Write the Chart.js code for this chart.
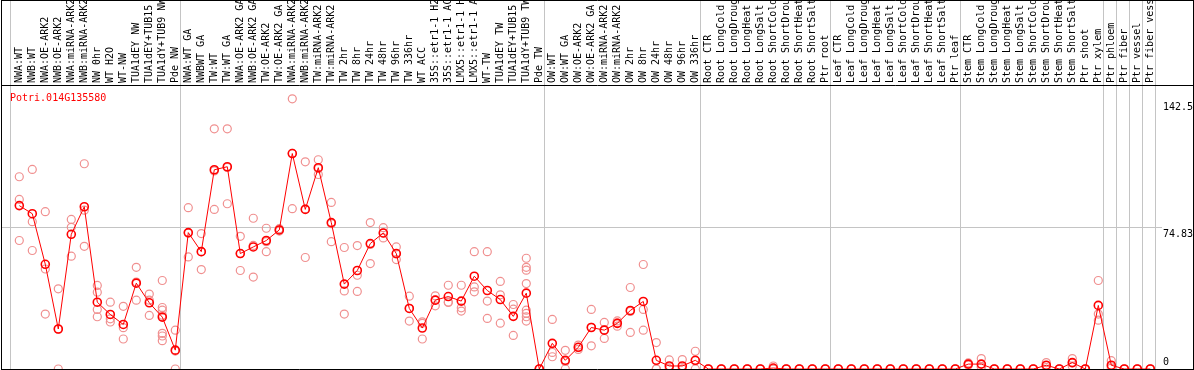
<!DOCTYPE html>
<html>
<head>
<meta charset="utf-8">
<script src="https://cdn.jsdelivr.net/npm/chart.js@4.4.0/dist/chart.umd.min.js"></script>
<style>
  html, body { margin: 0; padding: 0; background: #fff; }
</style>
</head>
<body>
<canvas id="c" width="1194" height="370"></canvas>
<script>
const gene = "Potri.014G135580";

const categories = [
  "NWA:WT", "NWB:WT", "NWA:OE-ARK2", "NWB:OE-ARK2", "NWA:miRNA-ARK2", "NWB:miRNA-ARK2",
  "NW 0hr", "WT H2O", "WT-NW", "TUA1dEY NW", "TUA1dEY+TUB15 NW", "TUA1dY+TUB9 NW", "Pde NW",
  "NWA:WT GA", "NWBWT GA", "TW:WT", "TW:WT GA", "NWA:OE-ARK2 GA", "NWB:OE-ARK2 GA",
  "TW:OE-ARK2", "TW:OE-ARK2 GA", "NWA:miRNA-ARK2", "NWB:miRNA-ARK2", "TW:miRNA-ARK2",
  "TW:miRNA-ARK2", "TW 2hr", "TW 8hr", "TW 24hr", "TW 48hr", "TW 96hr", "TW 336hr",
  "WT ACC", "35S::etr1-1 H2O", "35S::etr1-1 ACC", "LMX5::etr1-1 H2O", "LMX5::etr1-1 ACC",
  "WT-TW", "TUA1dEY TW", "TUA1dEY+TUB15 TW", "TUA1dY+TUB9 TW", "Pde TW",
  "OW:WT", "OW:WT GA", "OW:OE-ARK2", "OW:OE-ARK2 GA", "OW:miRNA-ARK2", "OW:miRNA-ARK2",
  "OW 2hr", "OW 8hr", "OW 24hr", "OW 48hr", "OW 96hr", "OW 336hr",
  "Root CTR", "Root LongCold", "Root LongDrought", "Root LongHeat", "Root LongSalt",
  "Root ShortCold", "Root ShortDrought", "Root ShortHeat", "Root ShortSalt", "Ptr root",
  "Leaf CTR", "Leaf LongCold", "Leaf LongDrought", "Leaf LongHeat", "Leaf LongSalt",
  "Leaf ShortCold", "Leaf ShortDrought", "Leaf ShortHeat", "Leaf ShortSalt", "Ptr leaf",
  "Stem CTR", "Stem LongCold", "Stem LongDrought", "Stem LongHeat", "Stem LongSalt",
  "Stem ShortCold", "Stem ShortDrought", "Stem ShortHeat", "Stem ShortSalt", "Ptr shoot",
  "Ptr xylem", "Ptr phloem", "Ptr fiber", "Ptr vessel", "Ptr fiber vessel"
];

// mean expression per sample (the red line)
const means = [
  86.6, 82.3, 55.5, 21.2, 71.4, 86.0, 35.4, 28.9, 23.6, 45.5, 35.1, 27.5, 10.0,
  72.3, 62.2, 105.6, 107.2, 61.2, 64.7, 68.1, 73.7, 114.2, 84.6, 106.7, 77.6,
  45.0, 52.2, 66.5, 72.1, 61.2, 32.1, 21.7, 36.5, 38.4, 36.0, 49.2, 41.6, 36.8,
  27.9, 40.2, 0, 13.6, 4.6, 11.5, 22.0, 20.6, 24.2, 31.0, 35.8, 4.6, 1.6, 1.6, 4.6,
  0, 0, 0, 0, 0, 0.5, 0, 0, 0, 0,
  0, 0, 0, 0, 0, 0, 0, 0, 0, 0,
  2.6, 2.6, 0, 0, 0, 0, 2.0, 0, 3.4, 0,
  33.7, 2.0, 0, 0, 0
];

// individual replicates (pale circles)
const replicates = [
  [101.9, 89.9, 68.1], [105.8, 78.1, 62.8], [83.4, 53.0, 29.1], [42.5, 21.1, 0],
  [79.3, 75.1, 59.8], [108.8, 84.2, 65.0], [44.3, 40.7, 31.6, 27.7], [35.4, 26.6, 24.9],
  [33.2, 21.9, 15.9], [53.9, 46.1, 36.5], [39.7, 36.5, 28.4],
  [46.9, 32.6, 31.2, 28.5, 18.9, 17.5, 15.0], [20.6, 9.5, 0],
  [85.5, 72.0, 59.4], [71.8, 62.2, 52.7], [127.3, 105.0, 84.6], [127.3, 106.8, 87.6],
  [70.3, 61.2, 52.2], [79.9, 65.5, 48.7], [74.6, 67.5, 62.2], [74.4, 73.7, 73.1],
  [143.2, 114.3, 85.0], [109.8, 84.8, 59.1], [110.9, 106.2, 103.1], [88.3, 77.0, 67.5],
  [64.4, 41.4, 29.1], [65.4, 49.7, 41.1], [77.6, 66.0, 55.9], [74.9, 72.0, 69.5],
  [64.7, 61.0, 58.0], [38.6, 32.2, 25.4], [25.0, 24.2, 15.9], [38.8, 36.5, 33.5],
  [44.4, 35.5, 35.3], [44.4, 32.4, 30.7], [62.2, 43.5, 40.9], [62.2, 36.0, 26.8],
  [46.4, 39.3, 24.3], [34.2, 31.7, 17.8],
  [58.7, 53.9, 52.4, 45.3, 31.2, 29.5, 27.7, 25.4], [0, 0, 0],
  [26.3, 8.8, 6.5], [9.9, 4.0, 0], [12.7, 11.5, 10.4], [31.6, 22.1, 12.3],
  [24.7, 20.8, 16.2], [25.5, 24.4, 22.7], [43.2, 30.5, 19.4], [55.4, 31.6, 20.6],
  [14.0, 0, 0], [4.8, 0, 0], [5.0, 0, 0], [9.4, 4.4, 0],
  [0, 0, 0], [0, 0, 0], [0, 0, 0], [0, 0, 0], [0, 0, 0], [1.6, 0, 0],
  [0, 0, 0], [0, 0, 0], [0, 0, 0], [0, 0, 0],
  [0, 0, 0], [0, 0, 0], [0, 0, 0], [0, 0, 0], [0, 0, 0],
  [0, 0, 0], [0, 0, 0], [0, 0, 0], [0, 0, 0], [0, 0, 0],
  [3.2, 2.6, 2.0], [5.5, 1.2, 1.1], [0, 0, 0], [0, 0, 0], [0, 0, 0], [0, 0, 0],
  [3.4, 1.8, 0.8], [0, 0, 0], [5.5, 3.2, 1.5], [0, 0, 0],
  [46.9, 29.1, 25.9], [4.4, 1.2, 0.4], [0, 0, 0], [0, 0, 0], [0, 0, 0]
];

const yTicks = [0, 74.83, 142.5];
// last sample index of each tissue group (grey separators)
const groupEnds = [12, 40, 52, 62, 72, 83, 84, 85, 86, 87];

const FONT = "10px 'DejaVu Sans Mono'";

const repPoints = [];
replicates.forEach((vals, i) => vals.forEach((v) => repPoints.push({ x: i, y: v })));
const meanPoints = means.map((v, i) => ({ x: i, y: v }));

const frame = {
  id: "frame",
  beforeDraw(chart) {
    const { ctx, width, height } = chart;
    ctx.save();
    ctx.fillStyle = "white";
    ctx.fillRect(0, 0, width, height);
    ctx.restore();
  },
  beforeDatasetsDraw(chart) {
    const { ctx, height } = chart;
    const x = chart.scales.x;
    ctx.save();
    ctx.strokeStyle = "#c4c4c4";
    ctx.lineWidth = 1;
    const seps = [-0.7, ...groupEnds.map((g) => g + 0.38)];
    for (const s of seps) {
      const px = Math.round(x.getPixelForValue(s)) + 0.5;
      ctx.beginPath();
      ctx.moveTo(px, 0);
      ctx.lineTo(px, height);
      ctx.stroke();
    }
    ctx.restore();
  },
  afterDraw(chart) {
    const { ctx, width, height, chartArea } = chart;
    const x = chart.scales.x;
    const y = chart.scales.y;
    ctx.save();

    // sample names, rotated, clipped to the header box
    ctx.save();
    ctx.beginPath();
    ctx.rect(2, 1, width - 3, 84);
    ctx.clip();
    ctx.font = FONT;
    ctx.fillStyle = "#000";
    ctx.textAlign = "left";
    ctx.textBaseline = "alphabetic";
    categories.forEach((lab, i) => {
      const px = x.getPixelForValue(i);
      ctx.save();
      ctx.translate(px + 3, 83);
      ctx.rotate(-Math.PI / 2);
      ctx.fillText(lab, 0, 0);
      ctx.restore();
    });
    ctx.restore();

    // borders
    ctx.strokeStyle = "#000";
    ctx.lineWidth = 1;
    ctx.beginPath();
    ctx.moveTo(1.5, 0); ctx.lineTo(1.5, height);
    ctx.moveTo(width - 0.5, 0); ctx.lineTo(width - 0.5, height);
    ctx.moveTo(1, 0.5); ctx.lineTo(width, 0.5);
    ctx.moveTo(1, 85.5); ctx.lineTo(width, 85.5);
    ctx.moveTo(1, chartArea.bottom + 0.5); ctx.lineTo(width, chartArea.bottom + 0.5);
    ctx.stroke();

    // gene title
    ctx.font = FONT;
    ctx.fillStyle = "#ff0000";
    ctx.textAlign = "left";
    ctx.textBaseline = "alphabetic";
    ctx.fillText(gene, 10, 101);

    // right-hand value labels
    ctx.fillStyle = "#000";
    yTicks.forEach((v) => {
      const py = Math.min(y.getPixelForValue(v) + 9.5, chartArea.bottom - 4);
      ctx.fillText(String(v), 1163, py);
    });
    ctx.restore();
  },
};

new Chart(document.getElementById("c"), {
  type: "line",
  data: {
    datasets: [
      {
        label: "mean",
        data: meanPoints,
        borderColor: "#ff0000",
        borderWidth: 1,
        pointRadius: 4,
        pointBorderWidth: 1.6,
        pointBorderColor: "#ff0000",
        pointBackgroundColor: "rgba(0,0,0,0)",
        tension: 0,
        clip: false,
        order: 0,
      },
      {
        label: "replicates",
        data: repPoints,
        showLine: false,
        pointRadius: 4,
        pointBorderWidth: 1.2,
        pointBorderColor: "#f09090",
        pointBackgroundColor: "rgba(0,0,0,0)",
        clip: false,
        order: 1,
      },
    ],
  },
  options: {
    responsive: false,
    animation: false,
    events: [],
    layout: { autoPadding: false, padding: { left: 2, right: 32, top: 86, bottom: 1 } },
    plugins: {
      legend: { display: false },
      tooltip: { enabled: false },
    },
    scales: {
      x: {
        type: "linear",
        min: -1.33,
        max: 87.9,
        display: false,
      },
      y: {
        type: "linear",
        position: "right",
        min: 0,
        max: 150,
        afterBuildTicks: (axis) => {
          axis.ticks = yTicks.map((v) => ({ value: v }));
        },
        afterFit: (axis) => {
          axis.width = 0;
        },
        ticks: { display: false },
        border: { display: false },
        grid: {
          drawTicks: false,
          color: (c) => (c.tick && c.tick.value === 74.83 ? "#c4c4c4" : "rgba(0,0,0,0)"),
          lineWidth: 1,
        },
      },
    },
  },
  plugins: [frame],
});
</script>
</body>
</html>
